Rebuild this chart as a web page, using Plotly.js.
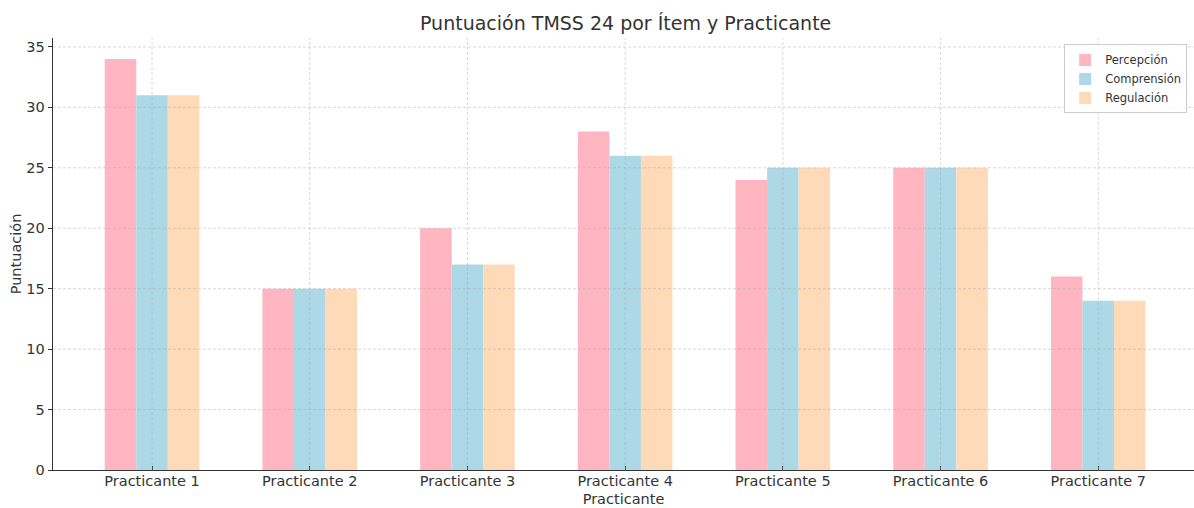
<!DOCTYPE html>
<html>
<head>
<meta charset="utf-8">
<script src="https://cdn.plot.ly/plotly-3.0.1.min.js"></script>
<style>html,body{margin:0;padding:0;background:#fff;}#chart{width:1194px;height:508px;}</style>
</head>
<body>
<div id="chart"></div>
<script>
const categories = ["Practicante 1","Practicante 2","Practicante 3","Practicante 4","Practicante 5","Practicante 6","Practicante 7"];
const seriesNames = ["Percepción","Comprensión","Regulación"];
const percepcion = [34,15,20,28,24,25,16];
const comprension = [31,15,17,26,25,25,14];
const regulacion = [31,15,17,26,25,25,14];
const colors = ["#FFB6C1","#ADD8E6","#FFDAB9"];
const yTicks = [0,5,10,15,20,25,30,35];

const values = [percepcion, comprension, regulacion];
const traces = values.map((v,i)=>({
  type:'bar', x:categories, y:v, name:seriesNames[i],
  marker:{color:colors[i], line:{width:0}}
}));

const gridStyle = {color:'rgba(170,170,170,0.45)', width:1, dash:'3px,2px'};
const shapes = [];
yTicks.slice(1).forEach(t=>shapes.push({type:'line', xref:'paper', yref:'y', x0:0, x1:1, y0:t, y1:t, line:gridStyle, layer:'above'}));
categories.forEach(c=>shapes.push({type:'line', xref:'x', yref:'paper', x0:c, x1:c, y0:0, y1:1, line:gridStyle, layer:'above'}));

const font = "DejaVu Sans, sans-serif";
const layout = {
  width:1194, height:508,
  margin:{l:53, r:0, t:38, b:38},
  paper_bgcolor:'#fff', plot_bgcolor:'#fff',
  font:{family:font, color:'#333', size:14},
  title:{text:'Puntuación TMSS 24 por Ítem y Practicante', x:0.524, xanchor:'center', y:0.955, yanchor:'middle', font:{family:font, size:19, color:'#333'}},
  barmode:'group', bargap:0.4, bargroupgap:0,
  xaxis:{
    range:[-0.628,6.607], showgrid:false, zeroline:false,
    showline:true, linecolor:'#333', linewidth:1.3,
    ticks:'inside', ticklen:4, tickcolor:'#333', ticklabelstandoff:-3,
    tickfont:{size:14.5, color:'#333'},
    title:{text:'Practicante', font:{size:14.5, color:'#333'}, standoff:6}
  },
  yaxis:{
    range:[0,35.74], tickvals:yTicks, showgrid:false, zeroline:false,
    showline:true, linecolor:'#333', linewidth:1.3,
    ticks:'outside', ticklen:4, tickcolor:'#333',
    tickfont:{size:14.5, color:'#333'},
    title:{text:'Puntuación', font:{size:14.5, color:'#333'}, standoff:1}
  },
  legend:{x:0.994, xanchor:'right', y:0.985, yanchor:'top', bgcolor:'rgba(255,255,255,0.85)', bordercolor:'#ccc', borderwidth:1, font:{size:11.5, color:'#333'}, tracegroupgap:0, itemwidth:30},
  shapes:shapes,
  showlegend:true
};
Plotly.newPlot('chart', traces, layout, {displayModeBar:false, staticPlot:true});
</script>
</body>
</html>
